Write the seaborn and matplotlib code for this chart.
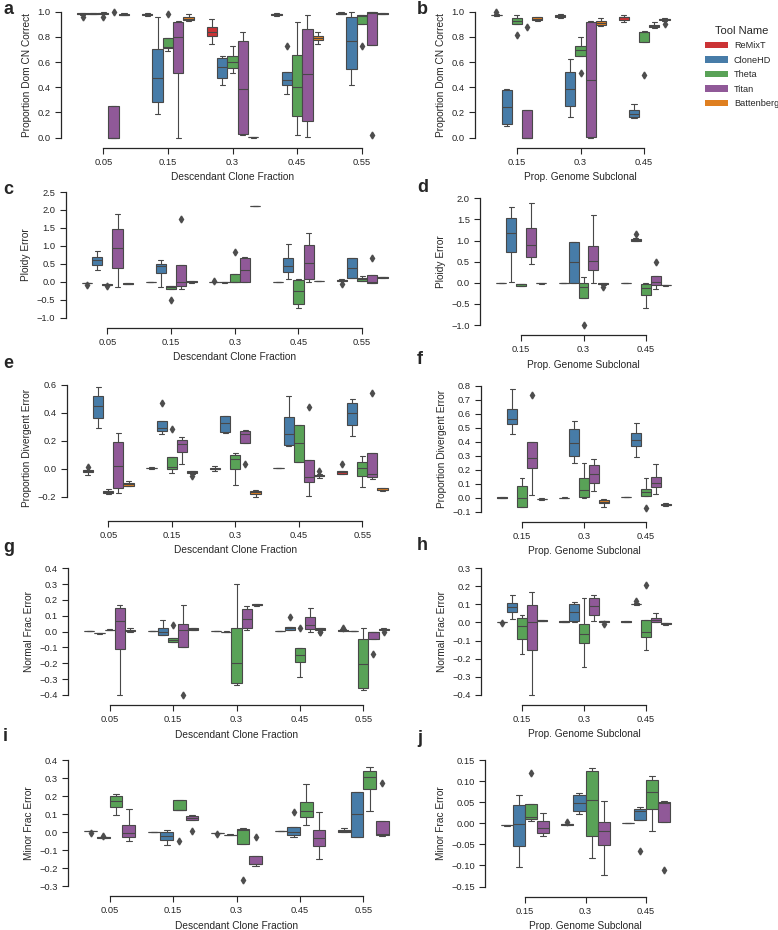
import numpy as np
import pandas as pd
import seaborn as sns
import matplotlib.pyplot as plt
from matplotlib.patches import Patch

tools = ["ReMixT", "CloneHD", "Theta", "Titan", "Battenberg"]
clone_fracs = ["0.05", "0.15", "0.3", "0.45", "0.55"]
subclonal_props = ["0.15", "0.3", "0.45"]

# each box: (whisker low, q1, median, q3, whisker high, *outliers)
a_boxes = {
    "ReMixT": [(0.975, 0.98, 0.985, 0.99, 0.99, 0.96), (0.965, 0.975, 0.98, 0.985, 0.99),
               (0.745, 0.805, 0.835, 0.875, 0.94), (0.965, 0.975, 0.98, 0.985, 0.99),
               (0.98, 0.983, 0.985, 0.99, 0.995)],
    "CloneHD": [(0.98, 0.983, 0.985, 0.988, 0.99), (0.185, 0.285, 0.47, 0.70, 0.955),
                (0.42, 0.47, 0.56, 0.635, 0.65), (0.345, 0.42, 0.455, 0.525, 0.525, 0.725),
                (0.415, 0.545, 0.765, 0.955, 0.995)],
    "Theta": [(0.98, 0.985, 0.988, 0.99, 0.995, 0.96), (0.685, 0.71, 0.72, 0.795, 0.795, 0.98),
              (0.51, 0.555, 0.60, 0.645, 0.73), (0.02, 0.175, 0.405, 0.66, 0.915),
              (0.905, 0.905, 0.965, 0.97, 0.975, 0.725)],
    "Titan": [(0.0, 0.0, 0.0, 0.25, 0.25, 1.0), (0.0, 0.515, 0.80, 0.92, 0.93),
              (0.025, 0.03, 0.39, 0.765, 0.835), (0.005, 0.135, 0.505, 0.865, 0.975),
              (0.735, 0.735, 0.99, 0.995, 1.0, 0.02)],
    "Battenberg": [(0.97, 0.97, 0.975, 0.98, 0.99), (0.93, 0.935, 0.945, 0.955, 0.98),
                   (0.0, 0.002, 0.004, 0.005, 0.006), (0.745, 0.775, 0.79, 0.805, 0.84),
                   (0.983, 0.984, 0.985, 0.986, 0.987)],
}
b_boxes = {
    "ReMixT": [(0.965, 0.97, 0.972, 0.975, 0.98, 0.995), (0.95, 0.96, 0.965, 0.975, 0.985),
               (0.915, 0.935, 0.955, 0.96, 0.975)],
    "CloneHD": [(0.09, 0.11, 0.245, 0.375, 0.385), (0.165, 0.255, 0.385, 0.52, 0.625),
                (0.155, 0.165, 0.185, 0.22, 0.27)],
    "Theta": [(0.90, 0.90, 0.93, 0.95, 0.97, 0.815), (0.65, 0.65, 0.695, 0.73, 0.80, 0.515),
              (0.76, 0.76, 0.835, 0.84, 0.845, 0.50)],
    "Titan": [(0.0, 0.0, 0.0, 0.22, 0.22, 0.875), (0.0, 0.005, 0.46, 0.915, 0.925),
              (0.87, 0.88, 0.89, 0.895, 0.915)],
    "Battenberg": [(0.925, 0.935, 0.945, 0.955, 0.96), (0.885, 0.895, 0.91, 0.925, 0.95),
                   (0.93, 0.935, 0.94, 0.945, 0.95, 0.905)],
}
c_boxes = {
    "ReMixT": [(-0.04, -0.035, -0.03, -0.025, -0.02, -0.08), (-0.005, -0.003, 0.0, 0.003, 0.005),
               (-0.01, -0.005, 0.0, 0.0, 0.005, 0.02), (-0.005, -0.003, 0.0, 0.003, 0.005),
               (0.02, 0.02, 0.04, 0.06, 0.09, -0.06)],
    "CloneHD": [(0.33, 0.48, 0.60, 0.69, 0.86), (-0.14, 0.24, 0.43, 0.50, 0.62),
                (-0.02, -0.015, -0.01, -0.005, 0.0), (0.07, 0.26, 0.44, 0.66, 1.05),
                (0.10, 0.10, 0.38, 0.66, 0.66)],
    "Theta": [(-0.09, -0.085, -0.08, -0.075, -0.07, -0.11), (-0.21, -0.21, -0.15, -0.12, -0.12, -0.51),
              (0.0, 0.0, 0.0, 0.21, 0.21, 0.82), (-0.73, -0.62, -0.26, 0.05, 0.08),
              (0.03, 0.03, 0.07, 0.10, 0.15)],
    "Titan": [(-0.15, 0.37, 0.95, 1.48, 1.88), (-0.20, -0.13, -0.01, 0.48, 0.48, 1.74),
              (0.0, 0.0, 0.32, 0.66, 0.68), (-0.01, 0.07, 0.51, 1.03, 1.35),
              (-0.03, -0.03, 0.0, 0.18, 0.18, 0.67)],
    "Battenberg": [(-0.06, -0.055, -0.05, -0.045, -0.04), (-0.02, -0.01, 0.0, 0.01, 0.02),
                   (2.1, 2.1, 2.1, 2.1, 2.1), (0.025, 0.028, 0.03, 0.032, 0.035),
                   (0.115, 0.118, 0.12, 0.122, 0.125)],
}
d_boxes = {
    "ReMixT": [(-0.005, -0.002, 0.0, 0.002, 0.005), (-0.005, -0.002, 0.0, 0.002, 0.005),
               (-0.005, -0.002, 0.0, 0.002, 0.005)],
    "CloneHD": [(0.02, 0.72, 1.19, 1.54, 1.80), (0.0, 0.0, 0.49, 0.97, 0.97),
                (0.99, 1.0, 1.02, 1.04, 1.05, 1.16)],
    "Theta": [(-0.07, -0.07, -0.04, -0.02, -0.02), (-0.35, -0.35, -0.10, 0.0, 0.13, -0.99),
              (-0.60, -0.29, -0.12, -0.02, 0.0)],
    "Titan": [(0.45, 0.60, 0.89, 1.29, 1.88), (0.0, 0.30, 0.51, 0.87, 1.60),
              (-0.15, -0.05, 0.02, 0.15, 0.15, 0.50)],
    "Battenberg": [(-0.02, -0.015, -0.01, -0.005, 0.0), (-0.05, -0.04, -0.02, -0.01, 0.0, -0.10),
                   (-0.065, -0.062, -0.06, -0.058, -0.055)],
}
e_boxes = {
    "ReMixT": [(-0.045, -0.025, -0.015, -0.01, -0.01, 0.015), (0.0, 0.002, 0.005, 0.007, 0.01),
               (-0.015, -0.005, 0.0, 0.005, 0.02), (0.003, 0.004, 0.005, 0.006, 0.007),
               (-0.035, -0.035, -0.025, -0.02, -0.02, 0.035)],
    "CloneHD": [(0.29, 0.365, 0.445, 0.52, 0.58), (0.25, 0.27, 0.29, 0.34, 0.34, 0.47),
                (0.255, 0.265, 0.325, 0.375, 0.375), (0.16, 0.17, 0.245, 0.37, 0.52),
                (0.23, 0.31, 0.40, 0.47, 0.50)],
    "Theta": [(-0.18, -0.175, -0.165, -0.16, -0.145), (-0.03, -0.005, 0.01, 0.085, 0.085, 0.285),
              (-0.115, 0.0, 0.07, 0.10, 0.11), (0.045, 0.05, 0.18, 0.31, 0.315),
              (-0.13, -0.05, 0.005, 0.05, 0.09)],
    "Titan": [(-0.175, -0.135, 0.02, 0.19, 0.255), (0.035, 0.12, 0.175, 0.205, 0.225),
              (0.18, 0.18, 0.245, 0.27, 0.275, 0.035), (-0.195, -0.095, -0.06, 0.065, 0.065, 0.44),
              (-0.075, -0.06, -0.035, 0.115, 0.115, 0.54)],
    "Battenberg": [(-0.125, -0.125, -0.11, -0.10, -0.09), (-0.035, -0.03, -0.025, -0.02, -0.015, -0.055),
                   (-0.20, -0.18, -0.17, -0.16, -0.15), (-0.065, -0.055, -0.05, -0.045, -0.035, -0.02),
                   (-0.16, -0.155, -0.15, -0.14, -0.14)],
}
f_boxes = {
    "ReMixT": [(-0.003, -0.002, 0.0, 0.002, 0.003), (-0.002, -0.001, 0.0, 0.001, 0.002),
               (0.003, 0.004, 0.005, 0.006, 0.007)],
    "CloneHD": [(0.455, 0.525, 0.565, 0.635, 0.775), (0.25, 0.30, 0.39, 0.49, 0.55),
                (0.29, 0.37, 0.415, 0.46, 0.53)],
    "Theta": [(-0.065, -0.065, 0.0, 0.085, 0.14), (-0.005, 0.005, 0.055, 0.14, 0.245),
              (0.01, 0.01, 0.04, 0.065, 0.14, -0.075)],
    "Titan": [(0.02, 0.21, 0.28, 0.395, 0.395, 0.73), (0.05, 0.105, 0.17, 0.23, 0.275),
              (0.025, 0.075, 0.105, 0.15, 0.24)],
    "Battenberg": [(-0.015, -0.012, -0.01, -0.008, -0.005), (-0.065, -0.04, -0.03, -0.02, -0.01),
                   (-0.06, -0.055, -0.05, -0.045, -0.04)],
}
g_boxes = {
    "ReMixT": [(0.003, 0.004, 0.005, 0.006, 0.007), (0.003, 0.004, 0.005, 0.006, 0.007),
               (0.003, 0.004, 0.005, 0.006, 0.007), (0.003, 0.004, 0.005, 0.006, 0.007),
               (0.003, 0.005, 0.008, 0.012, 0.015, 0.025)],
    "CloneHD": [(-0.012, -0.011, -0.01, -0.009, -0.008), (-0.02, -0.02, 0.0, 0.025, 0.075),
                (-0.005, -0.003, 0.0, 0.0, 0.002), (0.01, 0.01, 0.02, 0.03, 0.03, 0.09),
                (0.003, 0.004, 0.005, 0.006, 0.007)],
    "Theta": [(0.01, 0.011, 0.012, 0.013, 0.014), (-0.065, -0.065, -0.05, -0.04, -0.04, 0.04),
              (-0.335, -0.325, -0.20, 0.02, 0.30), (-0.285, -0.19, -0.15, -0.105, -0.105, 0.025),
              (-0.37, -0.355, -0.205, -0.045, 0.02)],
    "Titan": [(-0.40, -0.11, 0.065, 0.15, 0.17), (-0.095, -0.095, 0.01, 0.05, 0.17, -0.40),
              (0.01, 0.02, 0.08, 0.145, 0.16), (0.0, 0.015, 0.045, 0.09, 0.15),
              (-0.045, -0.045, -0.005, 0.0, 0.0, -0.14)],
    "Battenberg": [(0.0, 0.005, 0.007, 0.012, 0.02), (0.01, 0.01, 0.015, 0.025, 0.025),
                   (0.165, 0.168, 0.17, 0.173, 0.175), (-0.005, 0.01, 0.015, 0.02, 0.02),
                   (0.01, 0.012, 0.015, 0.018, 0.02, 0.0)],
}
h_boxes = {
    "ReMixT": [(0.003, 0.003, 0.004, 0.005, 0.005, -0.005), (0.003, 0.004, 0.005, 0.006, 0.007),
               (0.003, 0.004, 0.005, 0.006, 0.007)],
    "CloneHD": [(0.02, 0.06, 0.085, 0.11, 0.15), (0.005, 0.01, 0.06, 0.105, 0.115),
                (0.095, 0.10, 0.102, 0.105, 0.11, 0.118)],
    "Theta": [(-0.175, -0.09, -0.02, 0.025, 0.04), (-0.245, -0.115, -0.065, -0.01, 0.135),
              (-0.15, -0.08, -0.055, 0.015, 0.015, 0.205)],
    "Titan": [(-0.40, -0.155, 0.0, 0.095, 0.17), (0.01, 0.04, 0.09, 0.135, 0.15),
              (0.0, 0.005, 0.015, 0.025, 0.05)],
    "Battenberg": [(0.007, 0.008, 0.01, 0.012, 0.013), (0.003, 0.005, 0.007, 0.01, 0.01, -0.01),
                   (-0.012, -0.01, -0.005, -0.003, -0.002)],
}
i_boxes = {
    "ReMixT": [(0.003, 0.004, 0.005, 0.006, 0.007, -0.005), (-0.002, -0.001, 0.0, 0.001, 0.002),
               (-0.006, -0.005, -0.005, -0.004, -0.003, -0.012), (0.003, 0.004, 0.005, 0.006, 0.007),
               (0.0, 0.0, 0.005, 0.01, 0.02)],
    "CloneHD": [(-0.033, -0.032, -0.03, -0.029, -0.028, -0.02), (-0.07, -0.045, -0.02, 0.0, 0.012),
                (-0.017, -0.016, -0.015, -0.014, -0.013), (-0.03, -0.015, 0.0, 0.03, 0.03, 0.11),
                (-0.03, -0.03, 0.10, 0.225, 0.225)],
    "Theta": [(0.095, 0.14, 0.17, 0.20, 0.21), (0.125, 0.125, 0.125, 0.18, 0.18, -0.05),
              (-0.065, -0.065, 0.01, 0.015, 0.025, -0.265), (0.04, 0.085, 0.115, 0.165, 0.265),
              (0.115, 0.24, 0.305, 0.34, 0.36)],
    "Titan": [(-0.05, -0.025, -0.005, 0.04, 0.13), (0.065, 0.065, 0.08, 0.09, 0.095, 0.005),
              (-0.19, -0.18, -0.175, -0.135, -0.135, -0.025), (-0.15, -0.075, -0.035, 0.01, 0.11),
              (-0.02, -0.015, -0.01, 0.06, 0.06, 0.275)],
}
j_boxes = {
    "ReMixT": [(-0.006, -0.005, -0.005, -0.004, -0.003), (-0.003, -0.003, -0.002, -0.001, -0.001, 0.003),
               (0.0, 0.0, 0.0, 0.0, 0.0)],
    "CloneHD": [(-0.104, -0.055, -0.002, 0.043, 0.067), (0.023, 0.028, 0.048, 0.066, 0.072),
                (0.007, 0.007, 0.03, 0.033, 0.038, -0.065)],
    "Theta": [(0.005, 0.01, 0.015, 0.045, 0.045, 0.12), (-0.083, -0.03, 0.055, 0.125, 0.131),
              (-0.019, 0.033, 0.073, 0.102, 0.113)],
    "Titan": [(-0.03, -0.023, -0.012, 0.005, 0.025), (-0.122, -0.051, -0.019, 0.003, 0.053),
              (0.003, 0.003, 0.048, 0.05, 0.052, -0.111)],
}

colors = dict(zip(tools, sns.color_palette("Set1", 5)))


def box_sample(box):
    # nine values whose quartiles and whiskers reproduce the read-off box
    lo, q1, med, q3, hi = box[:5]
    vals = [lo, lo, q1, q1, med, q3, q3, hi, hi]
    for o in box[5:]:
        if o < q1:
            vals[0] = o
        else:
            vals[-1] = o
    return vals


def long_frame(boxes, cats):
    rows = []
    for tool, per_cat in boxes.items():
        for cat, box in zip(cats, per_cat):
            for v in box_sample(box):
                rows.append((cat, tool, v))
    return pd.DataFrame(rows, columns=["cat", "Tool Name", "value"])


sns.set_style("ticks")
plt.rcParams["font.family"] = ["Liberation Sans", "DejaVu Sans"]
plt.rcParams["xtick.major.size"] = 4.3
plt.rcParams["ytick.major.size"] = 4.3
plt.rcParams["xtick.major.width"] = 0.8
plt.rcParams["ytick.major.width"] = 0.8
plt.rcParams["axes.linewidth"] = 0.9

W, H = 778, 930
fig = plt.figure(figsize=(W / 100, H / 100), dpi=100)

# letter, data, categories, ylabel, xlabel, yticks, ylim, (left, top, right, bottom) px, letter pos
panels = [
    ("a", a_boxes, clone_fracs, "Proportion Dom CN Correct", "Descendant Clone Fraction",
     [0, 0.2, 0.4, 0.6, 0.8, 1.0], (0, 1.0), (71, 11.7, 394, 137.7), (3, 10)),
    ("b", b_boxes, subclonal_props, "Proportion Dom CN Correct", "Prop. Genome Subclonal",
     [0, 0.2, 0.4, 0.6, 0.8, 1.0], (0, 1.0), (485, 11.7, 676, 137.7), (417, 10)),
    ("c", c_boxes, clone_fracs, "Ploidy Error", "Descendant Clone Fraction",
     [-1.0, -0.5, 0, 0.5, 1.0, 1.5, 2.0, 2.5], (-1.0, 2.5), (75.5, 192, 394, 317.7), (3, 189)),
    ("d", d_boxes, subclonal_props, "Ploidy Error", "Prop. Genome Subclonal",
     [-1.0, -0.5, 0, 0.5, 1.0, 1.5, 2.0], (-1.0, 2.0), (490, 198.3, 677, 325), (417, 187)),
    ("e", e_boxes, clone_fracs, "Proportion Divergent Error", "Descendant Clone Fraction",
     [-0.2, 0, 0.2, 0.4, 0.6], (-0.3, 0.6), (76.5, 384.7, 394, 510.7), (3, 363)),
    ("f", f_boxes, subclonal_props, "Proportion Divergent Error", "Prop. Genome Subclonal",
     [-0.1, 0, 0.1, 0.2, 0.3, 0.4, 0.5, 0.6, 0.7, 0.8], (-0.1, 0.8), (491, 385.7, 677, 511.7), (417, 360)),
    ("g", g_boxes, clone_fracs, "Normal Frac Error", "Descendant Clone Fraction",
     [-0.4, -0.3, -0.2, -0.1, 0, 0.1, 0.2, 0.3, 0.4], (-0.4, 0.4), (78, 568.3, 395, 695), (3, 547)),
    ("h", h_boxes, subclonal_props, "Normal Frac Error", "Prop. Genome Subclonal",
     [-0.4, -0.3, -0.2, -0.1, 0, 0.1, 0.2, 0.3], (-0.4, 0.3), (491, 568.3, 677, 694.7), (417, 545)),
    ("i", i_boxes, clone_fracs, "Minor Frac Error", "Descendant Clone Fraction",
     [-0.3, -0.2, -0.1, 0, 0.1, 0.2, 0.3, 0.4], (-0.3, 0.4), (78, 760, 395, 886), (3, 736)),
    ("j", j_boxes, subclonal_props, "Minor Frac Error", "Prop. Genome Subclonal",
     [-0.15, -0.10, -0.05, 0, 0.05, 0.10, 0.15], (-0.15, 0.15), (495, 760, 676, 886.5), (417, 738)),
]

for letter, boxes, cats, ylab, xlab, yticks, ylim, (l, t, r, b), (lx, ly) in panels:
    ax = fig.add_axes([l / W, 1 - b / H, (r - l) / W, (b - t) / H])
    df = long_frame(boxes, cats)
    sns.boxplot(data=df, x="cat", y="value", hue="Tool Name", order=cats,
                hue_order=list(boxes), palette=colors, saturation=0.75,
                width=0.8, linewidth=0.8, legend=False, ax=ax,
                flierprops=dict(marker="d", markersize=3.5, markerfacecolor="0.3",
                                markeredgecolor="0.3"))
    for art in ax.lines + ax.patches:
        art.set_clip_on(False)
    ax.set_xlim(-0.5, len(cats) - 0.5)
    ax.set_ylim(*ylim)
    ax.set_yticks(yticks)
    ax.set_xlabel(xlab, fontsize=7.3)
    ax.set_ylabel(ylab, fontsize=7.3)
    ax.tick_params(labelsize=6.7, pad=3)
    sns.despine(ax=ax, offset=7.2, trim=True)
    fig.text(lx / W, 1 - ly / H, letter, fontsize=13, fontweight="bold",
             ha="left", va="center")

handles = [Patch(facecolor=sns.desaturate(colors[t], 0.75), edgecolor="none", label=t)
           for t in tools]
fig.legend(handles=handles, title="Tool Name", loc="upper left",
           bbox_to_anchor=(701 / W, 1 - 22 / H), frameon=False, fontsize=6.6,
           title_fontsize=8, handlelength=2.5, handleheight=0.75,
           labelspacing=0.6, handletextpad=0.7, borderaxespad=0)

fig.savefig("out.png", dpi=100)
